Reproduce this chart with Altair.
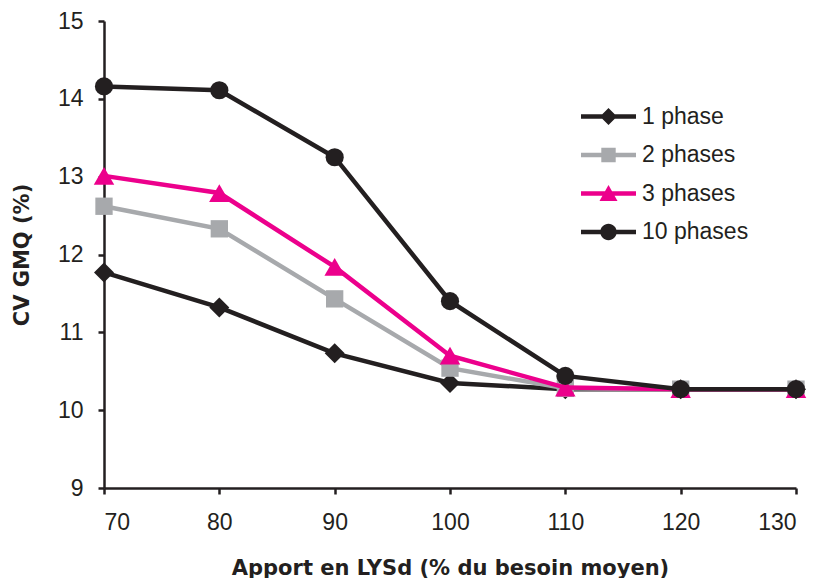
import altair as alt
import pandas as pd

# ---- data ----
apport = [70, 80, 90, 100, 110, 120, 130]
series_names = ["1 phase", "2 phases", "3 phases", "10 phases"]
cv_1phase = [11.77, 11.32, 10.73, 10.35, 10.27, 10.27, 10.27]
cv_2phases = [12.62, 12.33, 11.43, 10.54, 10.28, 10.27, 10.27]
cv_3phases = [13.01, 12.79, 11.84, 10.70, 10.29, 10.27, 10.27]
cv_10phases = [14.16, 14.11, 13.25, 11.40, 10.44, 10.27, 10.27]
x_ticks = [70, 80, 90, 100, 110, 120, 130]
y_ticks = [9, 10, 11, 12, 13, 14, 15]

values = [cv_1phase, cv_2phases, cv_3phases, cv_10phases]
rows = []
for name, vals in zip(series_names, values):
    for xv, yv in zip(apport, vals):
        rows.append({"series": name, "x": xv, "y": yv})
df = pd.DataFrame(rows)

# ---- styles ----
colors = ["#231f20", "#a7a9ac", "#ec008c", "#231f20"]
shapes = ["diamond", "square", "triangle-up", "circle"]
sizes = [400, 300, 420, 330]
LINE = "M-2.75,-0.22H2.75V0.22H-2.75Z"
legend_paths = [
    LINE + " M0,-0.85L0.85,0L0,0.85L-0.85,0Z",
    LINE + " M-0.72,-0.72H0.72V0.72H-0.72Z",
    LINE + " M0,-0.85L0.9,0.75L-0.9,0.75Z",
    LINE + " M0.82,0A0.82,0.82 0 1,1 -0.82,0A0.82,0.82 0 1,1 0.82,0Z",
]
FONT = "Liberation Sans"
TITLE_FONT = "DejaVu Sans"
INK = "#231f20"

x_enc = alt.X(
    "x:Q",
    scale=alt.Scale(domain=[70, 130], nice=False, zero=False),
    axis=alt.Axis(
        values=x_ticks,
        title="Apport en LYSd (% du besoin moyen)",
        titleY=80,
        titleBaseline="middle",
        labelPadding=17,
    ),
)
y_enc = alt.Y(
    "y:Q",
    scale=alt.Scale(domain=[9, 15], nice=False, zero=False),
    axis=alt.Axis(
        values=y_ticks,
        title="CV GMQ (%)",
        titleX=-82,
        titleY=233.5,
        titleAngle=270,
        titleAlign="center",
        titleBaseline="middle",
        labelPadding=15,
    ),
)

layers = []
for i, name in enumerate(series_names):
    sub = alt.Chart(df).transform_filter(alt.datum.series == name)
    line = sub.mark_line(strokeWidth=4.5).encode(
        x=x_enc, y=y_enc, color=alt.value(colors[i]),
    )
    pts = sub.mark_point(filled=True, opacity=1, shape=shapes[i], size=sizes[i]).encode(
        x=x_enc, y=y_enc, color=alt.value(colors[i]),
    )
    layers += [line, pts]

legend_layer = alt.Chart(df).transform_filter("datum.x < 0").mark_point(
    filled=True, opacity=1
).encode(
    color=alt.Color(
        "series:N",
        scale=alt.Scale(domain=series_names, range=colors),
        legend=alt.Legend(title=None),
    ),
    shape=alt.Shape(
        "series:N",
        scale=alt.Scale(domain=series_names, range=legend_paths),
        legend=alt.Legend(title=None),
    ),
)
layers.append(legend_layer)

chart = alt.layer(*layers).properties(
    width=692,
    height=467,
    autosize=alt.AutoSizeParams(type="none"),
    padding={"left": 96, "top": 13, "right": 13, "bottom": 90},
).configure_view(stroke=None).configure_axis(
    grid=False,
    domainColor=INK,
    domainWidth=2.5,
    tickColor=INK,
    tickWidth=2.5,
    tickSize=6,
    labelFont=FONT,
    labelFontSize=23,
    labelColor=INK,
    titleFont=TITLE_FONT,
    titleFontSize=21,
    titleFontWeight="bold",
    titleColor=INK,
).configure_legend(
    orient="none",
    legendX=493,
    legendY=84,
    padding=0,
    symbolSize=400,
    symbolStrokeWidth=0,
    symbolOpacity=1,
    labelOffset=22,
    labelFont=FONT,
    labelFontSize=23,
    labelColor=INK,
    rowPadding=14.5,
)

chart.save("out.html", embed_options={"renderer": "svg", "actions": False})
